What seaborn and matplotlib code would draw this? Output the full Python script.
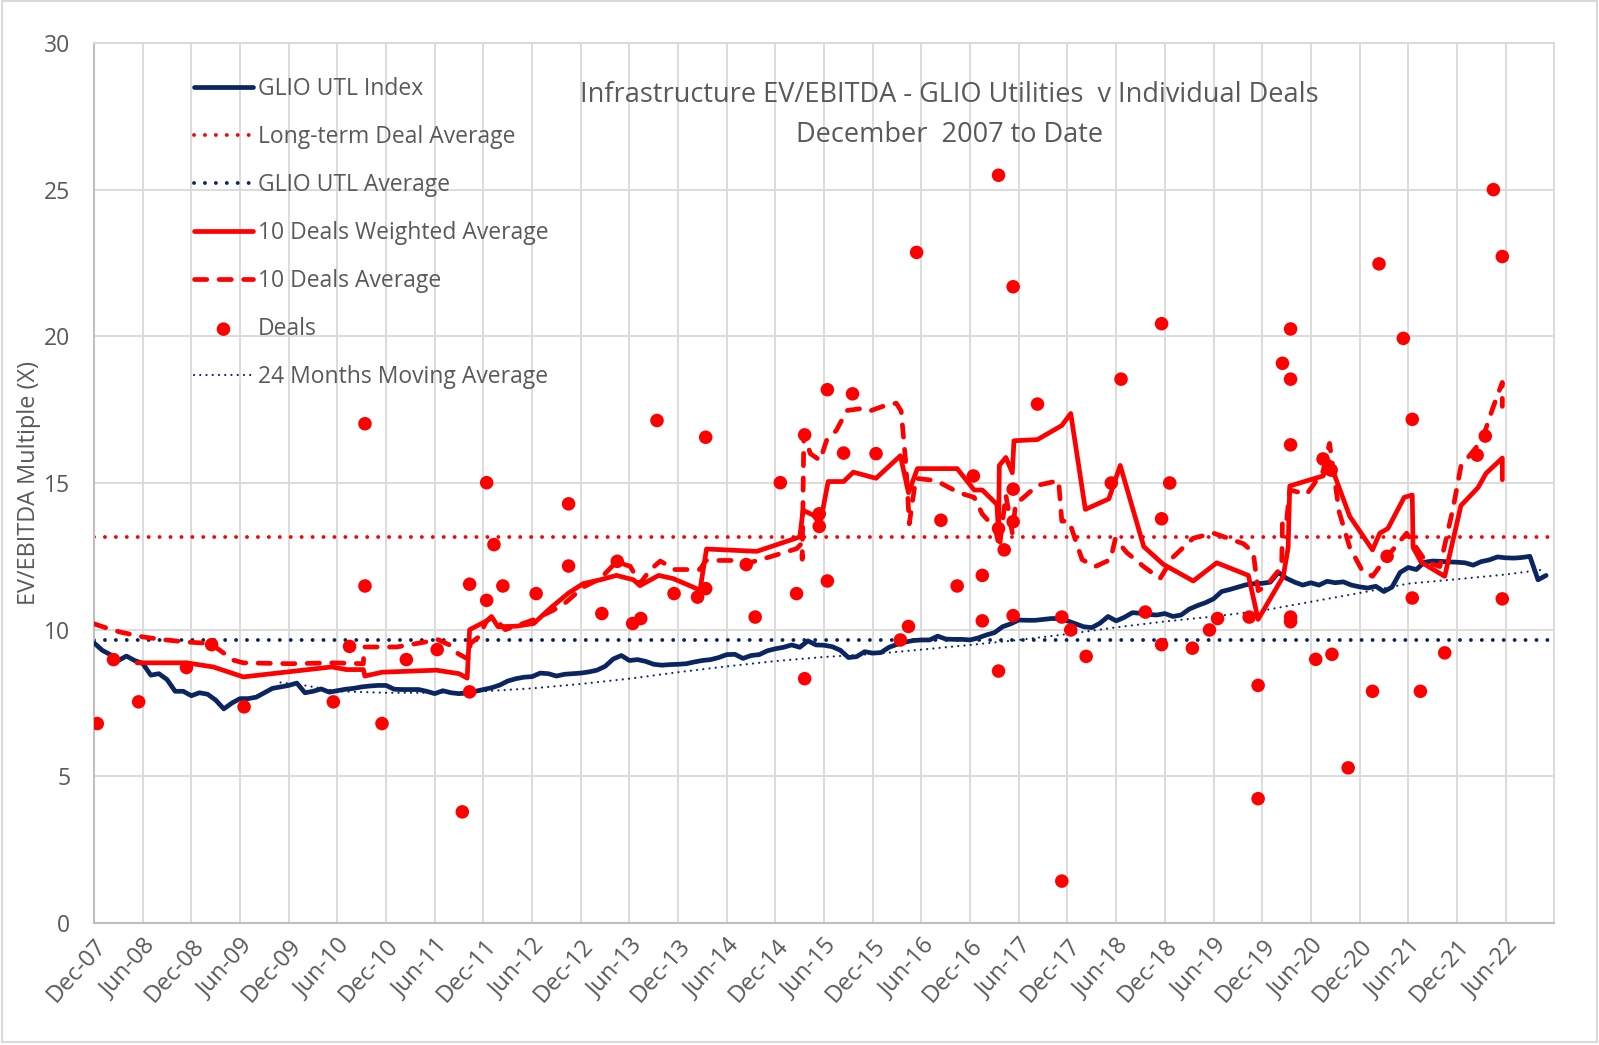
import matplotlib
matplotlib.use("Agg")
import matplotlib.pyplot as plt
from matplotlib.patches import Rectangle
import seaborn as sns

# x positions are months counted from Dec-07 (0 = Dec-07, 6 = Jun-08, ...)

# GLIO UTL Index, monthly from Dec-07
index_vals = [
    9.55, 9.30, 9.15, 8.95, 9.10, 8.95, 8.85, 8.45, 8.50, 8.30, 7.90, 7.90,
    7.75, 7.85, 7.80, 7.60, 7.30, 7.50, 7.65, 7.65, 7.70, 7.85, 8.00, 8.05,
    8.10, 8.18, 7.85, 7.90, 7.98, 7.87, 7.92, 7.97, 8.00, 8.05, 8.08, 8.10,
    8.10, 7.97, 7.96, 7.96, 7.96, 7.90, 7.82, 7.92, 7.85, 7.82, 7.84, 7.90,
    7.96, 8.02, 8.11, 8.25, 8.33, 8.38, 8.40, 8.52, 8.50, 8.42, 8.48, 8.50,
    8.52, 8.56, 8.62, 8.75, 9.00, 9.12, 8.95, 8.98, 8.92, 8.82, 8.79, 8.81,
    8.82, 8.84, 8.90, 8.95, 8.98, 9.05, 9.15, 9.16, 9.02, 9.12, 9.15, 9.28,
    9.35, 9.40, 9.48, 9.40, 9.62, 9.48, 9.47, 9.42, 9.30, 9.05, 9.08, 9.25,
    9.20, 9.22, 9.40, 9.50, 9.58, 9.63, 9.65, 9.65, 9.78, 9.68, 9.67, 9.67,
    9.65, 9.72, 9.82, 9.90, 10.10, 10.20, 10.33, 10.32, 10.32, 10.35, 10.38, 10.38,
    10.30, 10.20, 10.10, 10.07, 10.22, 10.45, 10.30, 10.42, 10.58, 10.56, 10.52, 10.50,
    10.55, 10.45, 10.50, 10.70, 10.82, 10.92, 11.05, 11.30, 11.37, 11.45, 11.53, 11.57,
    11.58, 11.62, 11.95, 11.75, 11.62, 11.52, 11.60, 11.52, 11.65, 11.60, 11.63, 11.52,
    11.46, 11.42, 11.48, 11.30, 11.45, 11.95, 12.12, 12.05, 12.30, 12.34, 12.33, 12.31,
    12.30, 12.28, 12.20, 12.32, 12.38, 12.48, 12.45, 12.44, 12.46, 12.50, 11.70, 11.85,
]
index_months = list(range(len(index_vals)))

# 24 Months Moving Average
ma_months = [23, 26, 30, 36, 42, 48, 54, 60, 66, 72, 78, 84, 90, 96, 102, 108,
             114, 120, 126, 132, 138, 144, 150, 156, 162, 168, 174, 179]
ma_vals = [8.20, 8.10, 7.90, 7.85, 7.85, 7.90, 8.00, 8.15, 8.33, 8.55, 8.75, 8.93,
           9.07, 9.17, 9.32, 9.48, 9.65, 9.85, 10.08, 10.28, 10.45, 10.65, 10.95,
           11.25, 11.57, 11.72, 11.88, 12.06]

# 10 Deals Weighted Average
wavg_months = [5.3, 11.4, 14.7, 18.4, 29.3, 31.1, 33.2, 33.4, 35.5, 42.2, 45.0, 46.0,
               46.3, 48.4, 49.0, 49.8, 52.1, 54.2, 56.2, 58.5, 60.3, 62.4, 64.4, 66.5,
               67.3, 69.6, 71.4, 74.7, 75.5, 81.7, 87.0, 87.4, 88.7, 89.5, 90.5, 92.4,
               93.6, 96.4, 99.4, 100.4, 101.5, 106.4, 108.5, 109.5, 111.3, 111.5, 111.6,
               112.4, 113.2, 113.4, 116.3, 119.3, 120.4, 122.2, 125.1, 126.5, 129.4,
               131.8, 135.5, 138.4, 142.3, 143.5, 146.6, 147.2, 147.4, 151.5, 152.3,
               154.8, 157.6, 158.5, 159.5, 161.5, 162.5, 162.6, 163.6, 166.5, 168.5,
               170.6, 171.6, 173.6, 173.6]
wavg_vals = [8.87, 8.87, 8.73, 8.39, 8.73, 8.64, 8.64, 8.42, 8.55, 8.62, 8.50, 8.35,
             10.00, 10.30, 10.45, 10.10, 10.12, 10.21, 10.72, 11.25, 11.57, 11.70, 11.85,
             11.70, 11.50, 11.85, 11.74, 11.35, 12.75, 12.67, 13.16, 14.07, 13.90, 13.60,
             15.05, 15.05, 15.37, 15.16, 15.93, 14.67, 15.49, 15.49, 14.76, 14.76, 14.27,
             13.30, 15.60, 15.87, 15.35, 16.44, 16.48, 16.96, 17.37, 14.10, 14.46, 15.60,
             12.83, 12.23, 11.66, 12.28, 11.85, 10.35, 11.82, 12.80, 14.90, 15.24, 15.73,
             13.86, 12.72, 13.29, 13.45, 14.51, 14.59, 12.80, 12.30, 11.82, 14.23, 14.84,
             15.33, 15.85, 15.11]

# 10 Deals Average
avg10_months = [0, 1.4, 3.2, 6.1, 8.5, 11.4, 14.3, 15.5, 17.2, 18.4, 24.2, 29.5, 33.2,
                33.3, 37.3, 39.8, 42.4, 43.9, 44.9, 46.1, 46.4, 47.4, 48.4, 49.2, 50.7,
                54.0, 56.6, 58.2, 60.3, 62.4, 64.4, 66.1, 67.3, 68.5, 69.8, 71.6, 74.7,
                75.4, 78.8, 80.4, 83.3, 86.6, 87.2, 87.3, 87.5, 88.3, 89.5, 90.3, 91.5,
                92.8, 94.4, 95.6, 97.2, 98.9, 99.5, 100.1, 100.5, 101.3, 103.8, 106.6,
                108.5, 109.5, 111.1, 111.6, 112.4, 113.2, 113.6, 116.3, 118.9, 119.3,
                120.2, 121.8, 123.4, 125.3, 125.9, 127.3, 129.4, 131.4, 133.0, 135.5,
                138.0, 141.7, 142.9, 143.5, 144.5, 146.4, 146.5, 147.0, 147.4, 149.5,
                151.5, 152.3, 152.7, 153.5, 154.8, 156.4, 157.6, 158.9, 160.1, 161.8,
                162.6, 164.2, 165.9, 167.5, 168.5, 170.4, 171.4, 172.4, 173.6, 173.6]
avg10_vals = [10.20, 10.07, 9.92, 9.75, 9.66, 9.58, 9.53, 9.30, 8.96, 8.87, 8.84, 8.87,
              8.84, 9.41, 9.41, 9.53, 9.66, 9.47, 9.18, 9.00, 9.53, 9.75, 10.30, 10.43,
              10.00, 10.32, 10.66, 10.94, 11.45, 11.74, 12.31, 12.16, 11.57, 12.02, 12.34,
              12.05, 12.05, 12.36, 12.36, 12.25, 12.48, 12.76, 12.93, 12.40, 16.68, 16.00,
              15.77, 16.45, 16.79, 17.47, 17.53, 17.45, 17.61, 17.72, 17.45, 15.57, 13.61,
              15.16, 15.08, 14.67, 14.51, 13.94, 13.45, 12.80, 14.59, 13.29, 14.27, 14.92,
              15.08, 13.70, 13.70, 12.39, 12.15, 12.39, 13.10, 12.63, 12.15, 11.74, 12.47,
              13.12, 13.29, 12.93, 12.63, 11.33, 11.49, 12.15, 13.78, 13.70, 14.76, 14.62,
              15.40, 16.35, 15.57, 14.00, 12.80, 11.98, 11.82, 12.31, 12.72, 13.29, 12.96,
              12.31, 12.15, 14.10, 15.57, 16.22, 16.71, 17.53, 18.43, 17.61]

# Individual deals
deal_months = [0.4, 2.4, 5.5, 11.4, 14.5, 18.5, 29.5, 31.5, 33.4, 33.4, 35.5, 38.5,
               42.3, 45.4, 46.3, 46.3, 48.4, 48.4, 49.3, 50.4, 54.5, 58.5, 58.5, 62.6,
               64.5, 66.4, 67.4, 69.4, 71.5, 74.4, 75.4, 75.4, 80.4, 81.5, 84.6, 86.6,
               87.6, 87.6, 89.4, 89.4, 90.4, 90.4, 92.4, 93.5, 96.4, 99.4, 100.4, 101.4,
               104.4, 106.4, 108.4, 109.5, 109.5, 111.5, 111.5, 111.5, 112.2, 113.3,
               113.3, 113.3, 113.3, 116.3, 119.3, 119.3, 120.4, 122.3, 125.4, 126.6,
               129.6, 131.6, 131.6, 131.6, 132.6, 135.4, 137.5, 138.5, 142.4, 143.5,
               143.5, 146.5, 147.5, 147.5, 147.5, 147.5, 147.5, 150.6, 151.5, 152.5,
               152.6, 154.6, 157.6, 158.4, 159.4, 161.4, 162.5, 162.5, 163.5, 166.5,
               170.5, 171.5, 172.5, 173.6, 173.6]
deal_vals = [6.80, 8.98, 7.54, 8.71, 9.49, 7.37, 7.54, 9.43, 17.02, 11.49, 6.80, 8.98,
             9.32, 3.79, 11.55, 7.88, 15.01, 11.00, 12.90, 11.49, 11.23, 14.29, 12.17, 10.55,
             12.33, 10.21, 10.38, 17.13, 11.23, 11.11, 16.56, 11.40, 12.22, 10.43, 15.01, 11.23,
             16.64, 8.33, 13.95, 13.52, 18.18, 11.66, 16.02, 18.04, 16.00, 9.65, 10.11, 22.86,
             13.73, 11.49, 15.24, 11.85, 10.30, 25.49, 13.45, 8.59, 12.72, 21.69,
             14.79, 13.68, 10.48, 17.69, 10.43, 1.43, 9.99, 9.09, 15.00, 18.54,
             10.60, 20.43, 13.78, 9.49, 15.00, 9.37, 9.99, 10.38, 10.43, 8.10,
             4.24, 19.08, 20.25, 18.54, 16.30, 10.43, 10.27, 8.99, 15.82, 15.44,
             9.16, 5.29, 7.90, 22.47, 12.50, 19.93, 17.17, 11.08, 7.90, 9.21,
             15.95, 16.60, 25.00, 22.72, 11.05]

deal_longterm_avg = 13.17
glio_utl_avg = 9.65

tick_months = list(range(0, 175, 6))
tick_labels = ["Dec-07", "Jun-08", "Dec-08", "Jun-09", "Dec-09", "Jun-10", "Dec-10",
               "Jun-11", "Dec-11", "Jun-12", "Dec-12", "Jun-13", "Dec-13", "Jun-14",
               "Dec-14", "Jun-15", "Dec-15", "Jun-16", "Dec-16", "Jun-17", "Dec-17",
               "Jun-18", "Dec-18", "Jun-19", "Dec-19", "Jun-20", "Dec-20", "Jun-21",
               "Dec-21", "Jun-22"]

navy = "#0B2560"
red = "#FF0000"
grey_text = "#595959"
grid_col = "#D9D9D9"

sns.set_theme(style="white")
plt.rcParams["font.family"] = ["Open Sans", "DejaVu Sans"]

fig, ax = plt.subplots(figsize=(15.99, 10.45), dpi=100)
fig.subplots_adjust(left=0.0588, right=0.972, top=0.9589, bottom=0.1167)

dot_style = (0, (0.01, 2.8))

ax.axhline(deal_longterm_avg, color=red, lw=2.8, linestyle=dot_style,
           dash_capstyle="round", label="Long-term Deal Average", zorder=2)
ax.axhline(glio_utl_avg, color=navy, lw=2.8, linestyle=dot_style,
           dash_capstyle="round", label="GLIO UTL Average", zorder=2)

sns.lineplot(x=index_months, y=index_vals, ax=ax, color=navy, lw=3.4,
             estimator=None, sort=False, label="GLIO UTL Index", zorder=3)
sns.lineplot(x=ma_months, y=ma_vals, ax=ax, color=navy, lw=1.6,
             linestyle=(0, (0.01, 2.8)), dash_capstyle="round",
             estimator=None, sort=False, label="24 Months Moving Average", zorder=3)
sns.lineplot(x=wavg_months, y=wavg_vals, ax=ax, color=red, lw=3.4,
             estimator=None, sort=False, label="10 Deals Weighted Average", zorder=4)
sns.lineplot(x=avg10_months, y=avg10_vals, ax=ax, color=red, lw=3.4,
             linestyle=(0, (2.6, 2.6)), dash_capstyle="round",
             estimator=None, sort=False, label="10 Deals Average", zorder=4)
sns.scatterplot(x=deal_months, y=deal_vals, ax=ax, color=red, s=95,
                edgecolor="none", label="Deals", zorder=5)

ax.set_xlim(0, 180)
ax.set_ylim(0, 30)
ax.set_xticks(tick_months + [180])
ax.set_xticklabels(tick_labels + [""], rotation=48, ha="right",
                   rotation_mode="anchor", fontsize=17, color=grey_text)
ax.set_yticks(range(0, 31, 5))
ax.set_yticklabels([str(v) for v in range(0, 31, 5)], fontsize=16.5, color=grey_text)
ax.tick_params(axis="both", length=0)
ax.tick_params(axis="y", pad=17)
ax.tick_params(axis="x", pad=8)
ax.grid(True, color=grid_col, lw=1.3)
ax.set_axisbelow(True)
for side in ["top", "right"]:
    ax.spines[side].set_color(grid_col)
    ax.spines[side].set_linewidth(1.3)
for side in ["left", "bottom"]:
    ax.spines[side].set_color("#BFBFBF")
    ax.spines[side].set_linewidth(1.5)

ax.set_xlabel("")
ax.set_ylabel("EV/EBITDA Multiple (X)", fontsize=16.9, color=grey_text)
ax.yaxis.set_label_coords(-0.036, 0.5)

ax.text(0.5856, 0.9409, "Infrastructure EV/EBITDA - GLIO Utilities  v Individual Deals",
        transform=ax.transAxes, ha="center", va="center", fontsize=19.5, color=grey_text)
ax.text(0.5856, 0.8955, "December  2007 to Date",
        transform=ax.transAxes, ha="center", va="center", fontsize=19.5, color=grey_text)

handles, labels = ax.get_legend_handles_labels()
order = ["GLIO UTL Index", "Long-term Deal Average", "GLIO UTL Average",
         "10 Deals Weighted Average", "10 Deals Average", "Deals",
         "24 Months Moving Average"]
hmap = dict(zip(labels, handles))
ax.legend([hmap[k] for k in order], order, loc="upper left",
          bbox_to_anchor=(0.0685, 0.9615), borderaxespad=0, borderpad=0,
          frameon=False, fontsize=16.5, handlelength=2.57, handletextpad=0.22,
          labelspacing=1.05, labelcolor=grey_text, scatterpoints=1)

fig.patches.append(Rectangle((0.001, 0.003), 0.998, 0.996, transform=fig.transFigure,
                             fill=False, edgecolor=grid_col, lw=1.5))

fig.savefig("out.png", dpi=100)
